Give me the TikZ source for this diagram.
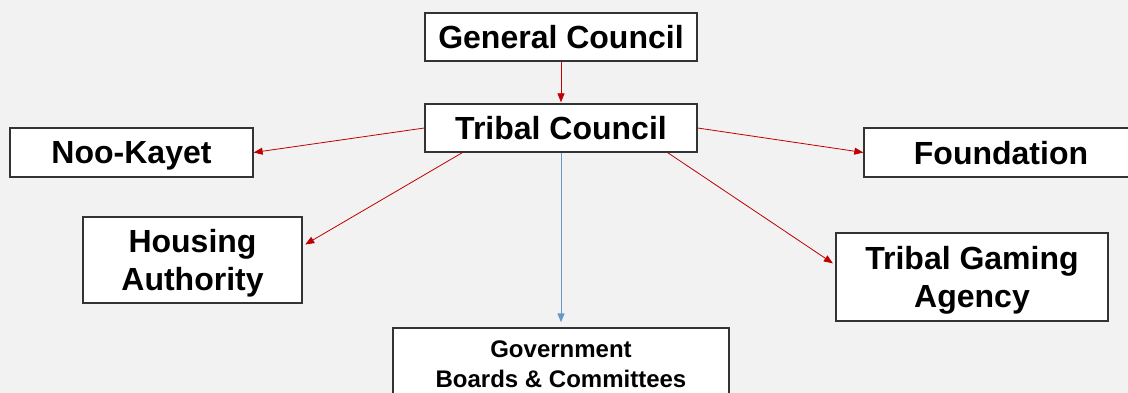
\documentclass[tikz,border=0pt]{standalone}
\usepackage{fontspec}
\setmainfont{Liberation Sans}
\usetikzlibrary{arrows.meta,positioning,calc}
\definecolor{bgGray}{RGB}{242,242,242}
\definecolor{linkRed}{RGB}{192,0,0}
\definecolor{linkBlue}{RGB}{104,152,200}

\begin{document}
\begin{tikzpicture}[
    x=1pt, y=-1pt,
    unit/.style={draw=black!80, line width=1.3pt, fill=white, inner sep=0pt, align=center, text depth=0pt},
    big/.style={font=\fontsize{32}{37.5}\selectfont\bfseries},
    small/.style={font=\fontsize{24}{30}\selectfont\bfseries},
    link/.style={color=linkRed, line width=0.8pt, -{Triangle[length=9pt,width=7pt]}}
]
    % Page and background:
    \useasboundingbox (0,0) rectangle (1128,393);
    \fill[bgGray] (0,0) rectangle (1128,393);

    % Units of the government:
    \node[unit, big, minimum width=272pt, minimum height=48pt] (general) at (561,37) {General Council};
    \node[unit, big, minimum width=272pt, minimum height=48pt] (tribal) at (561,128) {Tribal Council};
    \node[unit, big, minimum width=243pt, minimum height=49pt] (noo) at (131.5,152.5) {Noo-Kayet};
    \node[unit, big, minimum width=274pt, minimum height=49pt] (foundation) at (1001,152.5) {Foundation};
    \node[unit, big, minimum width=219pt, minimum height=86pt] (housing) at (192.5,260) {Housing\\Authority};
    \node[unit, big, minimum width=272pt, minimum height=88pt] (gaming) at (972,277) {Tribal Gaming\\Agency};
    \node[unit, small, minimum width=336pt, minimum height=72pt] (boards) at (561,364) {Government\\Boards \& Committees};

    \path
        (general) edge[link, shorten >=1pt] (tribal)
        (tribal.west) edge[link] (noo.east)
        ([xshift=38pt]tribal.south west) edge[link, shorten >=3pt] ([yshift=14pt]housing.east)
        (tribal.east) edge[link] (foundation.west)
        ([xshift=-30pt]tribal.south east) edge[link, shorten >=3pt] ([yshift=12pt]gaming.west);
    \draw[color=linkBlue, line width=1pt, -{Triangle[length=9pt,width=7pt]}, shorten >=5pt]
        (tribal.south) -- (boards.north);
\end{tikzpicture}
\end{document}
